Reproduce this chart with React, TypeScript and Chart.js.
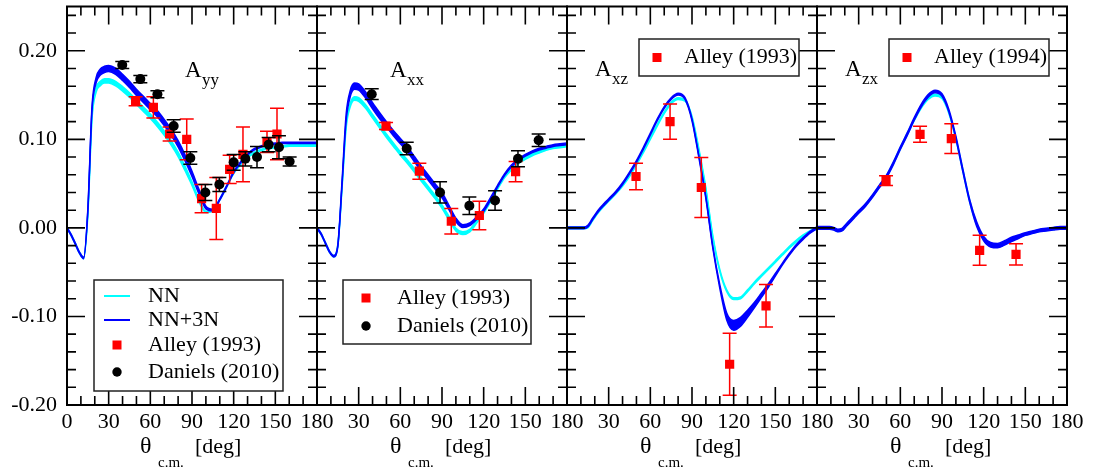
import { useEffect, useRef } from 'react';
import { Chart, registerables } from 'chart.js';

Chart.register(...registerables);

const FONT = "'Liberation Serif', 'Times New Roman', serif";
const CYAN = '#00ffff';
const BLUE = '#0000ff';
const RED = '#ff0000';
const BLACK = '#000000';

// shared angle grid for theory curves (deg)
const theta = [0, 3, 6, 9, 12, 15, 18, 21, 24, 27, 30, 35, 40, 45, 50, 55, 60, 65, 70, 75, 80, 85, 90, 95, 100, 105, 110, 115, 120, 125, 130, 135, 140, 145, 150, 155, 160, 165, 170, 175, 180];

// ---- A_yy ----
const ayyNN = [0, -0.008, -0.018, -0.028, -0.034, 0.015, 0.125, 0.156, 0.163, 0.166, 0.166, 0.163, 0.157, 0.150, 0.142, 0.134, 0.126, 0.117, 0.107, 0.096, 0.083, 0.067, 0.050, 0.031, 0.018, 0.020, 0.032, 0.047, 0.062, 0.072, 0.080, 0.085, 0.088, 0.090, 0.091, 0.092, 0.093, 0.093, 0.093, 0.093, 0.093];
const ayyNNw = [0.0015, 0.0015, 0.0015, 0.0015, 0.0015, 0.002, 0.004, 0.005, 0.005, 0.005, 0.005, 0.005, 0.005, 0.005, 0.005, 0.005, 0.005, 0.005, 0.005, 0.005, 0.005, 0.005, 0.004, 0.003, 0.0015, 0.0015, 0.0015, 0.0015, 0.0015, 0.0015, 0.0015, 0.0015, 0.0015, 0.0015, 0.0015, 0.0015, 0.0015, 0.0015, 0.0015, 0.0015, 0.0015];
const ayy3N = [0, -0.008, -0.018, -0.028, -0.034, 0.02, 0.135, 0.167, 0.176, 0.179, 0.180, 0.177, 0.170, 0.162, 0.153, 0.145, 0.137, 0.129, 0.119, 0.108, 0.095, 0.079, 0.061, 0.041, 0.023, 0.020, 0.032, 0.047, 0.063, 0.074, 0.083, 0.089, 0.092, 0.094, 0.095, 0.096, 0.096, 0.096, 0.096, 0.096, 0.096];
const ayy3Nw = [0.0015, 0.0015, 0.0015, 0.0015, 0.0015, 0.002, 0.004, 0.006, 0.007, 0.007, 0.007, 0.007, 0.007, 0.007, 0.007, 0.007, 0.007, 0.007, 0.007, 0.007, 0.007, 0.007, 0.006, 0.005, 0.003, 0.002, 0.0015, 0.0015, 0.0015, 0.0015, 0.0015, 0.0015, 0.0015, 0.0015, 0.0015, 0.0015, 0.0015, 0.0015, 0.0015, 0.0015, 0.0015];
const ayyAlleyTh = [49.4, 62.2, 73.9, 86.2, 96.9, 107.5, 117.1, 126.7, 144.0, 151.2];
const ayyAlleyV = [0.143, 0.136, 0.106, 0.100, 0.033, 0.022, 0.066, 0.083, 0.097, 0.106];
const ayyAlleyE = [0.005, 0.012, 0.008, 0.023, 0.016, 0.035, 0.016, 0.031, 0.012, 0.029];
const ayyDanTh = [39.8, 52.8, 65.1, 76.8, 88.8, 99.6, 109.7, 120.0, 128.4, 136.8, 145.2, 152.6, 160.3];
const ayyDanV = [0.184, 0.168, 0.151, 0.115, 0.079, 0.040, 0.049, 0.074, 0.078, 0.080, 0.094, 0.091, 0.075];
const ayyDanE = [0.004, 0.004, 0.004, 0.007, 0.007, 0.009, 0.008, 0.009, 0.008, 0.012, 0.008, 0.013, 0.005];

// ---- A_xx ----
const axxNN = [0, -0.007, -0.017, -0.027, -0.032, -0.02, 0.045, 0.115, 0.139, 0.146, 0.145, 0.137, 0.126, 0.115, 0.104, 0.094, 0.084, 0.075, 0.065, 0.055, 0.045, 0.035, 0.024, 0.011, -0.002, -0.006, -0.003, 0.007, 0.018, 0.031, 0.045, 0.058, 0.067, 0.074, 0.079, 0.083, 0.086, 0.089, 0.091, 0.092, 0.093];
const axxNNw = [0.0015, 0.0015, 0.0015, 0.0015, 0.0015, 0.002, 0.003, 0.004, 0.004, 0.004, 0.004, 0.004, 0.004, 0.004, 0.004, 0.004, 0.004, 0.004, 0.004, 0.004, 0.004, 0.004, 0.004, 0.004, 0.003, 0.003, 0.003, 0.003, 0.003, 0.003, 0.003, 0.003, 0.003, 0.003, 0.003, 0.003, 0.003, 0.003, 0.003, 0.003, 0.003];
const axx3N = [0, -0.007, -0.017, -0.027, -0.032, -0.02, 0.05, 0.125, 0.152, 0.160, 0.159, 0.150, 0.138, 0.127, 0.117, 0.107, 0.098, 0.089, 0.078, 0.067, 0.057, 0.047, 0.037, 0.023, 0.009, 0.002, 0.004, 0.011, 0.020, 0.033, 0.047, 0.060, 0.070, 0.077, 0.082, 0.086, 0.089, 0.091, 0.093, 0.094, 0.095];
const axx3Nw = [0.0015, 0.0015, 0.0015, 0.0015, 0.0015, 0.002, 0.004, 0.007, 0.007, 0.007, 0.007, 0.007, 0.007, 0.007, 0.006, 0.006, 0.006, 0.006, 0.006, 0.006, 0.006, 0.006, 0.006, 0.005, 0.004, 0.003, 0.003, 0.003, 0.003, 0.003, 0.002, 0.002, 0.002, 0.002, 0.002, 0.002, 0.002, 0.002, 0.002, 0.002, 0.002];
const axxAlleyTh = [49.7, 73.7, 96.7, 116.9, 143.0];
const axxAlleyV = [0.115, 0.064, 0.0075, 0.014, 0.0635];
const axxAlleyE = [0.004, 0.009, 0.0145, 0.016, 0.0115];
const axxDanTh = [39.4, 64.6, 88.6, 109.7, 128.2, 144.7, 159.6];
const axxDanV = [0.151, 0.0896, 0.040, 0.025, 0.031, 0.078, 0.099];
const axxDanE = [0.006, 0.007, 0.012, 0.010, 0.011, 0.009, 0.007];

// ---- A_xz ----
const axzNN = [0, 0, 0, 0, 0, 0.001, 0.008, 0.015, 0.021, 0.026, 0.031, 0.039, 0.048, 0.059, 0.072, 0.086, 0.101, 0.116, 0.130, 0.141, 0.146, 0.144, 0.125, 0.088, 0.044, -0.010, -0.048, -0.071, -0.080, -0.079, -0.071, -0.062, -0.054, -0.046, -0.038, -0.030, -0.022, -0.015, -0.009, -0.004, 0];
const axzNNw = [0.002, 0.002, 0.002, 0.002, 0.002, 0.002, 0.002, 0.002, 0.002, 0.002, 0.002, 0.002, 0.002, 0.002, 0.002, 0.002, 0.002, 0.002, 0.002, 0.002, 0.002, 0.002, 0.002, 0.002, 0.002, 0.002, 0.002, 0.002, 0.002, 0.002, 0.002, 0.002, 0.002, 0.002, 0.002, 0.002, 0.002, 0.002, 0.002, 0.002, 0.002];
const axz3N = [0, 0, 0, 0, 0, 0.002, 0.009, 0.016, 0.022, 0.027, 0.032, 0.040, 0.050, 0.062, 0.075, 0.090, 0.106, 0.122, 0.136, 0.146, 0.151, 0.146, 0.122, 0.080, 0.034, -0.022, -0.066, -0.100, -0.110, -0.106, -0.097, -0.087, -0.076, -0.065, -0.053, -0.041, -0.030, -0.020, -0.012, -0.005, 0];
const axz3Nw = [0.002, 0.002, 0.002, 0.002, 0.002, 0.002, 0.002, 0.002, 0.002, 0.002, 0.002, 0.002, 0.002, 0.002, 0.002, 0.002, 0.002, 0.002, 0.002, 0.002, 0.002, 0.002, 0.002, 0.002, 0.002, 0.002, 0.004, 0.008, 0.011, 0.010, 0.008, 0.006, 0.005, 0.004, 0.003, 0.002, 0.002, 0.002, 0.002, 0.002, 0.002];
const axzAlleyTh = [49.7, 74.2, 96.7, 117.1, 143.3];
const axzAlleyV = [0.058, 0.120, 0.0456, -0.154, -0.088];
const axzAlleyE = [0.015, 0.020, 0.034, 0.035, 0.024];

// ---- A_zx ----
const azxNN = [0, 0, 0, 0, -0.001, -0.003, -0.002, 0.003, 0.008, 0.013, 0.018, 0.026, 0.036, 0.047, 0.058, 0.073, 0.090, 0.106, 0.122, 0.136, 0.146, 0.150, 0.147, 0.130, 0.101, 0.065, 0.030, 0.004, -0.012, -0.019, -0.020, -0.017, -0.013, -0.010, -0.007, -0.005, -0.003, -0.002, -0.001, 0, 0];
const azxNNw = [0.002, 0.002, 0.002, 0.002, 0.002, 0.002, 0.002, 0.002, 0.002, 0.002, 0.002, 0.002, 0.002, 0.002, 0.002, 0.002, 0.002, 0.002, 0.002, 0.002, 0.002, 0.002, 0.002, 0.002, 0.002, 0.002, 0.002, 0.002, 0.002, 0.002, 0.002, 0.002, 0.002, 0.002, 0.002, 0.002, 0.002, 0.002, 0.002, 0.002, 0.002];
const azx3N = [0, 0, 0, 0, -0.001, -0.003, -0.002, 0.003, 0.008, 0.013, 0.018, 0.026, 0.036, 0.047, 0.058, 0.073, 0.090, 0.106, 0.123, 0.138, 0.149, 0.154, 0.150, 0.132, 0.102, 0.065, 0.030, 0.004, -0.012, -0.019, -0.020, -0.017, -0.013, -0.010, -0.007, -0.005, -0.003, -0.002, -0.001, 0, 0];
const azx3Nw = [0.003, 0.003, 0.003, 0.003, 0.003, 0.003, 0.003, 0.003, 0.003, 0.003, 0.003, 0.003, 0.003, 0.003, 0.003, 0.003, 0.003, 0.003, 0.003, 0.003, 0.003, 0.003, 0.003, 0.003, 0.003, 0.003, 0.003, 0.005, 0.005, 0.005, 0.005, 0.005, 0.005, 0.004, 0.003, 0.003, 0.003, 0.003, 0.003, 0.003, 0.003];
const azxAlleyTh = [49.7, 74.2, 96.7, 117.1, 143.3];
const azxAlleyV = [0.0534, 0.1057, 0.1008, -0.0253, -0.030];
const azxAlleyE = [0.0056, 0.009, 0.0168, 0.017, 0.012];

// ticks and labels
const xTickValues = [0, 30, 60, 90, 120, 150, 180];
const xTickLabels = ['0', '30', '60', '90', '120', '150', '180'];
const yTickValues = [-0.2, -0.1, 0, 0.1, 0.2];
const Y_MIN = -0.2;
const Y_MAX = 0.25;

type Pts = { th: number[]; v: number[]; e: number[] } | null;
type LegendItem = { kind: 'line' | 'rect' | 'circle'; color: string; text: string };

const panels: {
  name: string; sub: string; labelDx: number; labelBase: number;
  nn: number[]; nnW: number[]; n3: number[]; n3W: number[];
  alley: Pts; daniels: Pts;
  legend: { x: number; y: number; w: number; h: number; rows: number[]; items: LegendItem[] };
}[] = [
  {
    name: 'A', sub: 'yy', labelDx: 118, labelBase: 77,
    nn: ayyNN, nnW: ayyNNw, n3: ayy3N, n3W: ayy3Nw,
    alley: { th: ayyAlleyTh, v: ayyAlleyV, e: ayyAlleyE },
    daniels: { th: ayyDanTh, v: ayyDanV, e: ayyDanE },
    legend: {
      x: 27, y: 280, w: 189, h: 111, rows: [296, 320, 345, 372],
      items: [
        { kind: 'line', color: CYAN, text: 'NN' },
        { kind: 'line', color: BLUE, text: 'NN+3N' },
        { kind: 'rect', color: RED, text: 'Alley (1993)' },
        { kind: 'circle', color: BLACK, text: 'Daniels (2010)' },
      ],
    },
  },
  {
    name: 'A', sub: 'xx', labelDx: 73, labelBase: 77,
    nn: axxNN, nnW: axxNNw, n3: axx3N, n3W: axx3Nw,
    alley: { th: axxAlleyTh, v: axxAlleyV, e: axxAlleyE },
    daniels: { th: axxDanTh, v: axxDanV, e: axxDanE },
    legend: {
      x: 26, y: 280, w: 188, h: 64, rows: [298, 326],
      items: [
        { kind: 'rect', color: RED, text: 'Alley (1993)' },
        { kind: 'circle', color: BLACK, text: 'Daniels (2010)' },
      ],
    },
  },
  {
    name: 'A', sub: 'xz', labelDx: 28, labelBase: 76,
    nn: axzNN, nnW: axzNNw, n3: axz3N, n3W: axz3Nw,
    alley: { th: axzAlleyTh, v: axzAlleyV, e: axzAlleyE },
    daniels: null,
    legend: { x: 72, y: 39, w: 160, h: 37, rows: [57.5], items: [{ kind: 'rect', color: RED, text: 'Alley (1993)' }] },
  },
  {
    name: 'A', sub: 'zx', labelDx: 28, labelBase: 76,
    nn: azxNN, nnW: azxNNw, n3: azx3N, n3W: azx3Nw,
    alley: { th: azxAlleyTh, v: azxAlleyV, e: azxAlleyE },
    daniels: null,
    legend: { x: 72, y: 39, w: 160, h: 37, rows: [57.5], items: [{ kind: 'rect', color: RED, text: 'Alley (1994)' }] },
  },
];

function buildDatasets() {
  const ds: any[] = [];
  panels.forEach((p, i) => {
    const axis = 'x' + i;
    const band = (c: number[], w: number[], color: string, order: number) => {
      ds.push({
        type: 'line', xAxisID: axis, yAxisID: 'y',
        data: theta.map((t, k) => ({ x: t, y: c[k] - w[k] / 2 })),
        borderColor: color, borderWidth: 1.5, pointRadius: 0, fill: false,
        cubicInterpolationMode: 'monotone', order,
      });
      ds.push({
        type: 'line', xAxisID: axis, yAxisID: 'y',
        data: theta.map((t, k) => ({ x: t, y: c[k] + w[k] / 2 })),
        borderColor: color, borderWidth: 1.5, pointRadius: 0, fill: '-1', backgroundColor: color,
        cubicInterpolationMode: 'monotone', order,
      });
    };
    band(p.nn, p.nnW, CYAN, 4);
    band(p.n3, p.n3W, BLUE, 3);
    if (p.alley) {
      ds.push({
        type: 'line', xAxisID: axis, yAxisID: 'y', showLine: false,
        data: p.alley.th.map((t, k) => ({ x: t, y: p.alley!.v[k] })),
        errors: p.alley.e, errColor: RED,
        pointStyle: 'rect', pointRadius: 6.5, pointBackgroundColor: RED, pointBorderColor: RED, pointBorderWidth: 0,
        order: 2,
      });
    }
    if (p.daniels) {
      ds.push({
        type: 'line', xAxisID: axis, yAxisID: 'y', showLine: false,
        data: p.daniels.th.map((t, k) => ({ x: t, y: p.daniels!.v[k] })),
        errors: p.daniels.e, errColor: BLACK,
        pointStyle: 'circle', pointRadius: 5, pointBackgroundColor: BLACK, pointBorderColor: BLACK, pointBorderWidth: 0,
        order: 1,
      });
    }
  });
  return ds;
}

const errorBars = {
  id: 'errorBars',
  beforeDatasetDraw(chart: any, args: any) {
    const ds = chart.data.datasets[args.index];
    if (!ds.errors) return;
    const xs = chart.scales[args.meta.xAxisID];
    const ys = chart.scales[args.meta.yAxisID];
    const ctx = chart.ctx;
    ctx.save();
    ctx.strokeStyle = ds.errColor;
    ctx.lineWidth = 1.5;
    ds.data.forEach((pt: any, k: number) => {
      const x = xs.getPixelForValue(pt.x);
      const y1 = ys.getPixelForValue(pt.y + ds.errors[k]);
      const y2 = ys.getPixelForValue(pt.y - ds.errors[k]);
      ctx.beginPath();
      ctx.moveTo(x, y1); ctx.lineTo(x, y2);
      ctx.moveTo(x - 7, y1); ctx.lineTo(x + 7, y1);
      ctx.moveTo(x - 7, y2); ctx.lineTo(x + 7, y2);
      ctx.stroke();
    });
    ctx.restore();
  },
};

const decorations = {
  id: 'decorations',
  afterDatasetsDraw(chart: any) {
    const ctx = chart.ctx;
    const ca = chart.chartArea;
    const ys = chart.scales.y;
    ctx.save();
    panels.forEach((p, i) => {
      const xs = chart.scales['x' + i];
      const L = xs.getPixelForValue(0);
      const R = xs.getPixelForValue(180);
      ctx.strokeStyle = '#000';
      ctx.lineWidth = 1.6;
      ctx.beginPath();
      for (let t = 0; t <= 180; t += 10) {
        const px = xs.getPixelForValue(t);
        const len = t % 30 === 0 ? 18 : 9;
        ctx.moveTo(px, ca.bottom); ctx.lineTo(px, ca.bottom - len);
        ctx.moveTo(px, ca.top); ctx.lineTo(px, ca.top + len);
      }
      for (let k = -10; k <= 12; k++) {
        const py = ys.getPixelForValue(k * 0.02);
        const len = k % 5 === 0 ? 18 : 9;
        ctx.moveTo(L, py); ctx.lineTo(L + len, py);
        ctx.moveTo(R, py); ctx.lineTo(R - len, py);
      }
      ctx.stroke();
      ctx.lineWidth = 2;
      ctx.strokeRect(L, ca.top, R - L, ca.bottom - ca.top);

      // panel label
      ctx.fillStyle = '#000';
      ctx.textAlign = 'left';
      ctx.textBaseline = 'alphabetic';
      ctx.font = `23px ${FONT}`;
      ctx.fillText(p.name, L + p.labelDx, p.labelBase);
      ctx.font = `17px ${FONT}`;
      ctx.fillText(p.sub, L + p.labelDx + 17, p.labelBase + 7.5);

      // axis title
      const cx = (L + R) / 2;
      const sx = cx - 52;
      ctx.font = `24px ${FONT}`;
      ctx.fillText('\u03b8', sx, ca.bottom + 48);
      ctx.font = `15px ${FONT}`;
      ctx.fillText('c.m.', sx + 18, ca.bottom + 62);
      ctx.font = `22px ${FONT}`;
      ctx.fillText('[deg]', sx + 55, ca.bottom + 48);

      // legend
      const lg = p.legend;
      ctx.fillStyle = '#fff';
      ctx.fillRect(L + lg.x, lg.y, lg.w, lg.h);
      ctx.strokeStyle = '#222';
      ctx.lineWidth = 1.5;
      ctx.strokeRect(L + lg.x, lg.y, lg.w, lg.h);
      lg.items.forEach((it, r) => {
        const ry = lg.rows[r];
        const mx = L + lg.x + (i >= 2 ? 18 : 23);
        ctx.fillStyle = it.color;
        ctx.strokeStyle = it.color;
        if (it.kind === 'line') {
          ctx.lineWidth = 2;
          ctx.beginPath();
          ctx.moveTo(L + lg.x + 10, ry); ctx.lineTo(L + lg.x + 36, ry);
          ctx.stroke();
        } else if (it.kind === 'rect') {
          ctx.fillRect(mx - 4.5, ry - 4.5, 9, 9);
        } else {
          ctx.beginPath();
          ctx.arc(mx, ry, 4.7, 0, Math.PI * 2);
          ctx.fill();
        }
        ctx.fillStyle = '#000';
        ctx.font = `22px ${FONT}`;
        ctx.textBaseline = 'middle';
        ctx.fillText(it.text, L + lg.x + (i >= 2 ? 45 : 54), ry);
        ctx.textBaseline = 'alphabetic';
      });
    });
    ctx.restore();
  },
};

function xLabel(v: number) {
  const k = Math.round(v / 30);
  if (k === 0) return xTickLabels[0];
  const m = k % 6;
  return m === 0 ? xTickLabels[6] : xTickLabels[m];
}

export default function App() {
  const ref = useRef<HTMLCanvasElement>(null);
  useEffect(() => {
    const allX: number[] = [];
    panels.forEach((_, i) => xTickValues.forEach((v) => {
      const a = 180 * i + v;
      if (!allX.includes(a)) allX.push(a);
    }));
    const hiddenX: any = {};
    [1, 2, 3].forEach((i) => {
      hiddenX['x' + i] = { type: 'linear', display: false, min: -180 * i, max: 720 - 180 * i };
    });
    const chart = new Chart(ref.current!, {
      type: 'line',
      data: { datasets: buildDatasets() },
      options: {
        animation: false,
        responsive: false,
        devicePixelRatio: 1,
        events: [],
        layout: { padding: { left: 0, right: 29, top: 4, bottom: 0 } },
        plugins: { legend: { display: false }, tooltip: { enabled: false } },
        scales: {
          x0: {
            type: 'linear', position: 'bottom', min: 0, max: 720,
            grid: { display: false, drawTicks: false },
            border: { display: false },
            afterBuildTicks: (s: any) => { s.ticks = allX.map((v) => ({ value: v })); },
            afterFit: (s: any) => { s.height = 70; s.paddingLeft = 0; s.paddingRight = 0; },
            ticks: {
              autoSkip: false, maxRotation: 0, minRotation: 0, padding: 4, color: '#000',
              font: { family: FONT, size: 22 },
              callback: (v: any) => xLabel(Number(v)),
            },
          },
          ...hiddenX,
          y: {
            type: 'linear', position: 'left', min: Y_MIN, max: Y_MAX,
            grid: { display: false, drawTicks: false },
            border: { display: false },
            afterBuildTicks: (s: any) => { s.ticks = yTickValues.map((v) => ({ value: v })); },
            afterFit: (s: any) => { s.width = 67; s.paddingTop = 0; s.paddingBottom = 0; },
            ticks: {
              padding: 10, color: '#000',
              font: { family: FONT, size: 22 },
              callback: (v: any) => Number(v).toFixed(2),
            },
          },
        },
      } as any,
      plugins: [errorBars, decorations],
    });
    return () => chart.destroy();
  }, []);
  return (
    <div style={{ position: 'absolute', left: 0, top: 0, width: 1096, height: 475, background: '#fff' }}>
      <canvas ref={ref} width={1096} height={475} style={{ display: 'block', width: 1096, height: 475 }} />
    </div>
  );
}
